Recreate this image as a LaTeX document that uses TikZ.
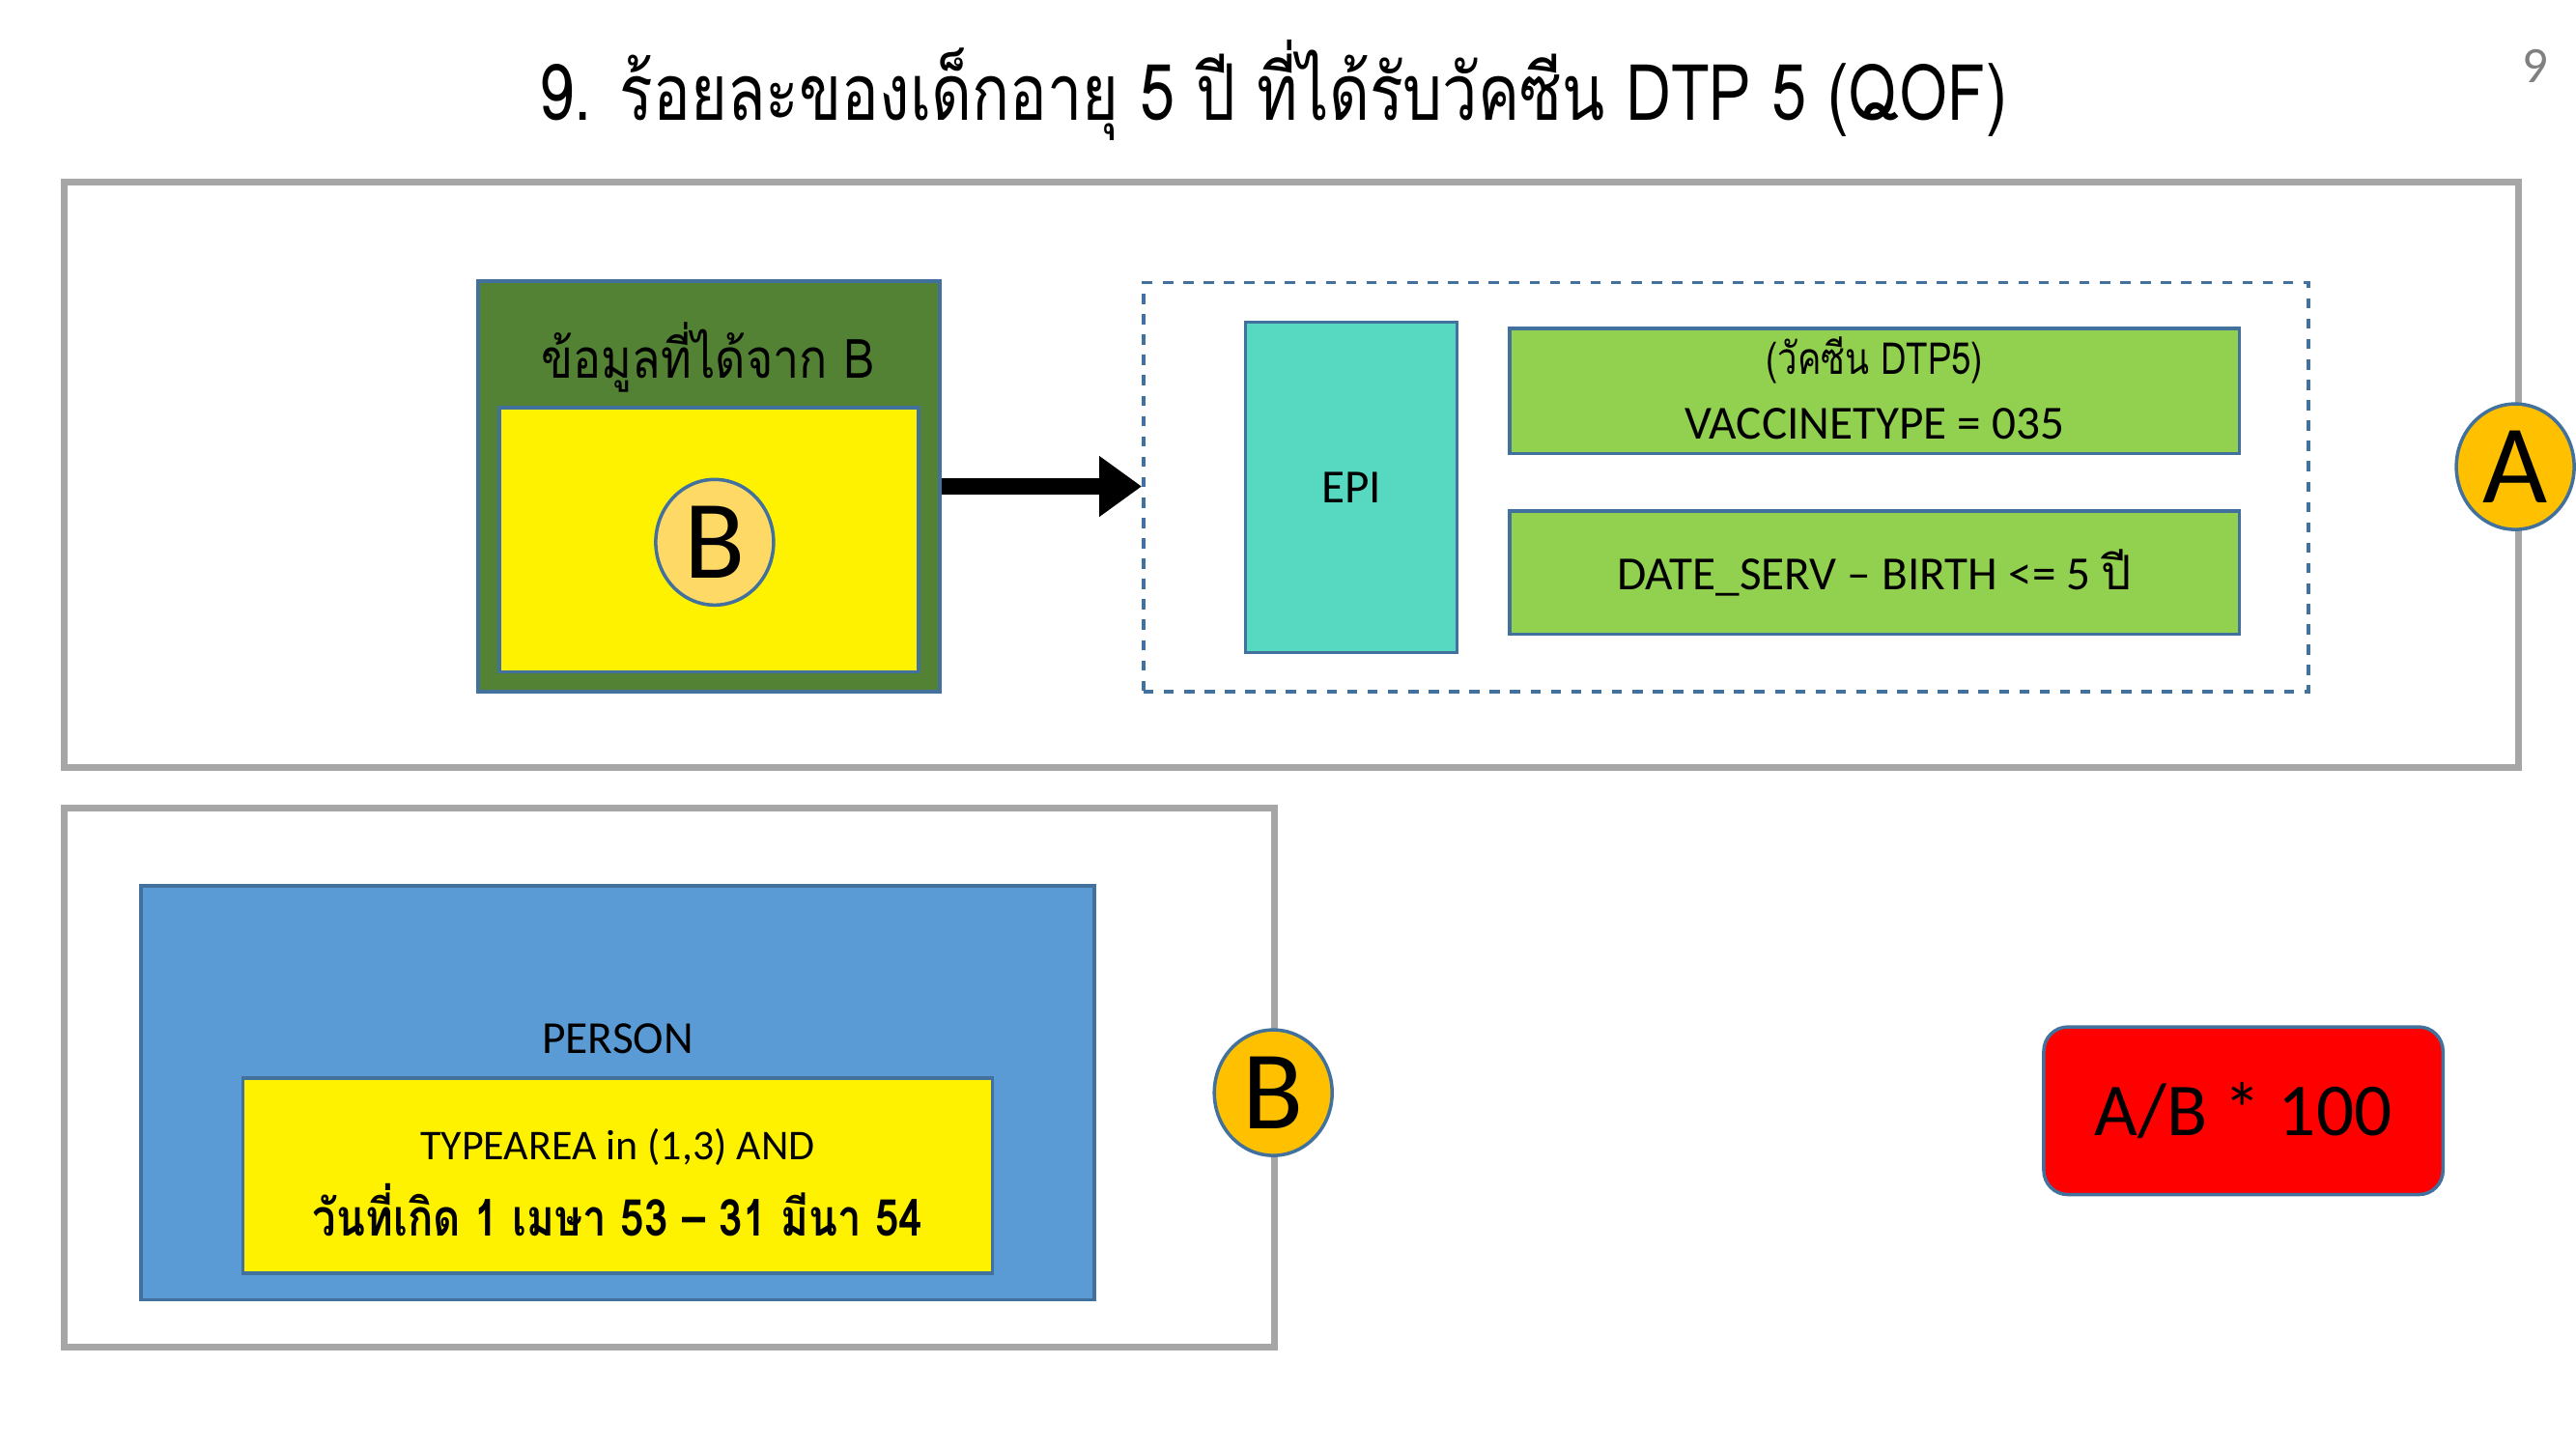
\documentclass[tikz,border=0pt]{standalone}
\usepackage{fontspec}
\setmainfont{Carlito}
\newfontfamily\thaifont[Script=Thai]{Loma}
\usepackage{graphicx}
\usepackage{tikz}
\usetikzlibrary{arrows.meta,shapes.geometric}

\definecolor{framegray}{HTML}{A6A6A6}
\definecolor{edgeblue}{HTML}{41719C}
\definecolor{darkgreen}{HTML}{548235}
\definecolor{lightgreen}{HTML}{92D050}
\definecolor{turq}{HTML}{57D9C1}
\definecolor{personblue}{HTML}{5B9BD5}
\definecolor{tagorange}{HTML}{FFC000}
\definecolor{tagpale}{HTML}{FFD966}

\tikzset{
  frame/.style={draw=framegray, line width=2pt, rectangle, inner sep=0pt},
  box/.style={draw=edgeblue, line width=1pt, rectangle, inner sep=0pt},
  tag/.style={draw=edgeblue, line width=1pt, ellipse, inner sep=0pt, fill=tagorange,
    minimum width=1.22cm, minimum height=1.30cm, font=\fontsize{33}{33}\selectfont},
  bigarrow/.style={-{Triangle[length=0.44cm,width=0.6cm]}, line width=5pt},
}

\begin{document}
\begin{tikzpicture}
    \useasboundingbox (0,0) rectangle (26.67,-15);
    % Title
    \node[anchor=base] (title) at (13.182,-1.242) {\scalebox{0.8}[1]{\thaifont\fontsize{23}{23}\selectfont 9. ร้อยละของเด็กอายุ 5 ปี ที่ได้รับวัคซีน DTP 5 (QOF)}};
    \node[anchor=base, text=gray] (pageno) at (26.245,-0.85) {\fontsize{15}{15}\selectfont 9};

    % Numerator frame
    \node[frame, minimum width=25.411cm, minimum height=6.055cm] (frameA) at (13.369,-4.916) {};
    % Data from B
    \node[box, fill=darkgreen, minimum width=4.780cm, minimum height=4.252cm] (data) at (7.339,-5.035) {};
    \node[anchor=base] (datahead) at (7.331,-3.912) {\scalebox{0.86}[1]{\thaifont\fontsize{16}{16}\selectfont ข้อมูลที่ได้จาก B}};
    \node[box, fill=yellow, minimum width=4.337cm, minimum height=2.738cm] (datain) at (7.339,-5.587) {};
    \node[tag, fill=tagpale] (tagBin) at (7.399,-5.613) {B};
    % Conditions
    \node[draw=edgeblue, dashed, line width=1pt, rectangle, minimum width=12.059cm, minimum height=4.235cm] (conds) at (17.868,-5.043) {};
    \node[box, fill=turq, minimum width=2.194cm, minimum height=3.419cm, font=\fontsize{14}{14}\selectfont] (epi) at (13.990,-5.043) {EPI};
    \node[box, fill=lightgreen, minimum width=7.552cm, minimum height=1.293cm] (vaccine) at (19.407,-4.048) {};
    \node[anchor=base] (vaccname) at (19.407,-3.878) {\scalebox{0.8}[1]{\thaifont\fontsize{13}{13}\selectfont (วัคซีน DTP5)}};
    \node[anchor=base] (vacctype) at (19.407,-4.541) {\fontsize{14}{14}\selectfont VACCINETYPE = 035};
    \node[box, fill=lightgreen, minimum width=7.552cm, minimum height=1.276cm, font=\fontsize{14}{14}\selectfont] (age) at (19.407,-5.928) {DATE\_SERV – BIRTH <= 5 {\thaifont ปี}};
    \node[tag] (tagA) at (26.041,-4.831) {A};

    % Denominator frame
    \node[frame, minimum width=12.536cm, minimum height=5.579cm] (frameB) at (6.931,-11.158) {};
    \node[box, fill=personblue, minimum width=9.865cm, minimum height=4.286cm] (person) at (6.395,-11.311) {};
    \node[anchor=base] (personhead) at (6.395,-10.903) {\fontsize{13.5}{13.5}\selectfont PERSON};
    \node[box, fill=yellow, minimum width=7.756cm, minimum height=2.024cm] (typearea) at (6.395,-12.170) {};
    \node[anchor=base] (typeline) at (6.395,-12.008) {\fontsize{12.5}{12.5}\selectfont TYPEAREA in (1,3) AND};
    \node[anchor=base] (birthline) at (6.395,-12.791) {\scalebox{0.83}[1]{\thaifont\bfseries\fontsize{15}{15}\selectfont วันที่เกิด 1 เมษา 53 – 31 มีนา 54}};
    \node[tag] (tagB) at (13.182,-11.311) {B};

    % Result
    \node[box, fill=red, rounded corners=0.25cm, minimum width=4.133cm, minimum height=1.735cm, font=\fontsize{22}{22}\selectfont] (result) at (23.226,-11.498) {A/B * 100};

    % Arrow
    \draw[bigarrow] (data.east) -- (data.east -| conds.west);
\end{tikzpicture}
\end{document}
